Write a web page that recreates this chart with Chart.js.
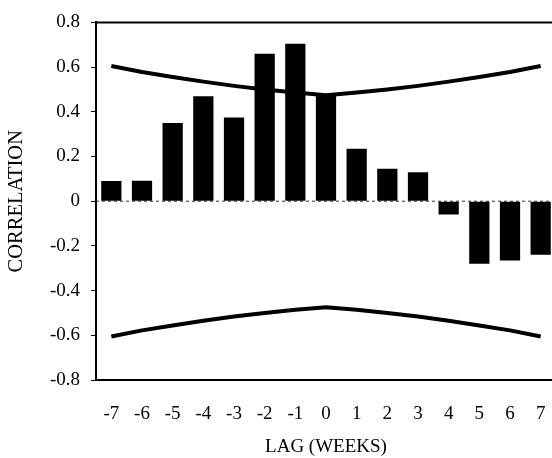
<!DOCTYPE html>
<html>
<head>
<meta charset="utf-8">
<script src="https://cdn.jsdelivr.net/npm/chart.js@4/dist/chart.umd.min.js"></script>
<style>
  html, body { margin: 0; padding: 0; background: #fff; overflow: hidden; }
  #wrap { width: 556px; height: 458px; }
</style>
</head>
<body>
<div id="wrap"><canvas id="c" width="556" height="458"></canvas></div>
<script>
const lagLabels = ['-7','-6','-5','-4','-3','-2','-1','0','1','2','3','4','5','6','7'];
const correlation = [0.09, 0.092, 0.35, 0.47, 0.375, 0.66, 0.705, 0.48, 0.235, 0.145, 0.13, -0.06, -0.28, -0.265, -0.24];
const upperBand = [0.605, 0.578, 0.556, 0.535, 0.516, 0.5, 0.486, 0.474, 0.486, 0.5, 0.516, 0.535, 0.556, 0.578, 0.605];
const lowerBand = [-0.605, -0.578, -0.556, -0.535, -0.516, -0.5, -0.486, -0.474, -0.486, -0.5, -0.516, -0.535, -0.556, -0.578, -0.605];
const yTickValues = [0.8, 0.6, 0.4, 0.2, 0, -0.2, -0.4, -0.6, -0.8];
const yTickLabels = ['0.8', '0.6', '0.4', '0.2', '0', '-0.2', '-0.4', '-0.6', '-0.8'];
const xTitle = 'LAG (WEEKS)';
const yTitle = 'CORRELATION';

const FONT = 'Liberation Serif, Times New Roman, serif';

const framePlugin = {
  id: 'frame',
  beforeDatasetsDraw(chart) {
    const {ctx, chartArea} = chart;
    const y0 = chart.scales.y.getPixelForValue(0);
    ctx.save();
    ctx.strokeStyle = '#333';
    ctx.lineWidth = 1;
    ctx.setLineDash([3, 3]);
    ctx.beginPath();
    ctx.moveTo(chartArea.left, y0);
    ctx.lineTo(chartArea.right, y0);
    ctx.stroke();
    ctx.restore();
  },
  afterDraw(chart) {
    const {ctx, chartArea} = chart;
    ctx.save();
    ctx.strokeStyle = '#000';
    ctx.lineWidth = 2;
    ctx.beginPath();
    ctx.moveTo(chartArea.left - 1, chartArea.top);
    ctx.lineTo(chartArea.right, chartArea.top);
    ctx.stroke();
    ctx.restore();
  }
};

new Chart(document.getElementById('c'), {
  data: {
    labels: lagLabels,
    datasets: [
      {
        type: 'line', data: upperBand, borderColor: '#000', borderWidth: 4,
        pointRadius: 0, fill: false, tension: 0, order: 0
      },
      {
        type: 'line', data: lowerBand, borderColor: '#000', borderWidth: 4,
        pointRadius: 0, fill: false, tension: 0, order: 0
      },
      {
        type: 'bar', data: correlation, backgroundColor: '#000', borderWidth: 0,
        categoryPercentage: 1.0, barPercentage: 0.66, order: 1
      }
    ]
  },
  options: {
    responsive: false,
    animation: false,
    devicePixelRatio: 1,
    layout: { padding: { top: 20, right: 0, left: 0, bottom: 0 } },
    plugins: { legend: { display: false }, tooltip: { enabled: false } },
    scales: {
      x: {
        type: 'category',
        offset: true,
        grid: { display: true, drawOnChartArea: false, drawTicks: true, tickLength: 23, tickColor: 'rgba(0,0,0,0)', color: 'rgba(0,0,0,0)' },
        border: { display: true, color: '#000', width: 2 },
        ticks: { color: '#000', font: { family: FONT, size: 19 }, padding: 0, maxRotation: 0, autoSkip: false },
        title: { display: true, text: xTitle, color: '#000', font: { family: FONT, size: 19 }, padding: { top: 0, bottom: 0 } },
        afterFit(scale) { scale.height = 78; }
      },
      y: {
        min: -0.8, max: 0.8,
        afterBuildTicks(scale) { scale.ticks = yTickValues.map(v => ({ value: v })); },
        grid: { drawOnChartArea: false, drawTicks: true, tickLength: 5, color: '#000', tickColor: '#000', lineWidth: 1 },
        border: { display: true, color: '#000', width: 2 },
        ticks: {
          color: '#000', font: { family: FONT, size: 19 }, padding: 11,
          callback: (v, i) => yTickLabels[i]
        },
        title: { display: true, text: yTitle, color: '#000', font: { family: FONT, size: 20.5 }, padding: { top: 4, bottom: 0 } },
        afterFit(scale) { scale.width = 96; }
      }
    }
  },
  plugins: [framePlugin]
});
</script>
</body>
</html>
